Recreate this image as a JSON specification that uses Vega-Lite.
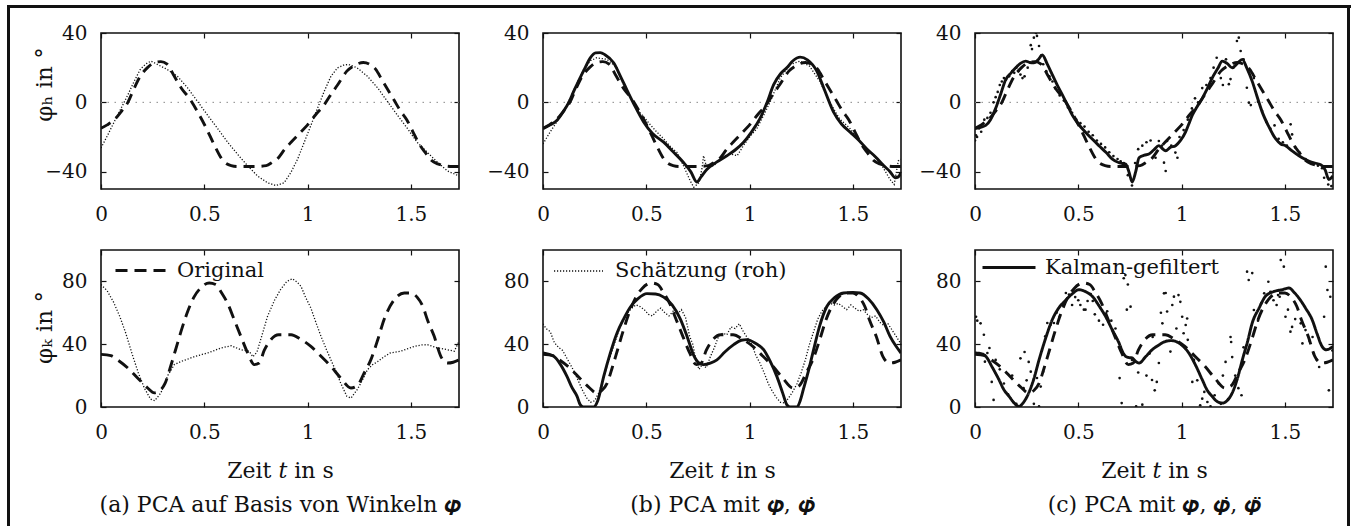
{
"$schema": "https://vega.github.io/schema/vega-lite/v6.json",
"padding": {"left": 7, "top": 5, "right": 0, "bottom": 0},
"background": "white",
"config": {
  "font": "DejaVu Serif",
  "view": {"stroke": "#111", "strokeWidth": 1.6},
  "axis": {"domain": false, "grid": false, "ticks": true, "tickSize": -5, "tickColor": "#111", "tickWidth": 1.2, "labelFont": "DejaVu Serif", "labelFontSize": 20, "labelColor": "#111", "labelFlush": false, "labelOverlap": false, "titleFont": "DejaVu Serif", "titleFontSize": 22, "titleFontWeight": "normal", "titleColor": "#111"},
  "legend": {"labelFont": "DejaVu Serif", "labelFontSize": 21, "labelColor": "#111", "labelLimit": 400, "symbolType": "stroke", "padding": 0, "offset": 0, "title": null}
},
"datasets": {
  "origH": [{"t":0,"v":-15},{"t":0.03,"v":-13},{"t":0.065,"v":-10},{"t":0.1,"v":-5},{"t":0.13,"v":0},{"t":0.16,"v":8},{"t":0.19,"v":15},{"t":0.225,"v":20},{"t":0.26,"v":23},{"t":0.29,"v":23.5},{"t":0.32,"v":22},{"t":0.355,"v":15},{"t":0.39,"v":8},{"t":0.43,"v":2},{"t":0.47,"v":-6},{"t":0.51,"v":-15},{"t":0.55,"v":-25},{"t":0.59,"v":-33.5},{"t":0.63,"v":-36.5},{"t":0.66,"v":-37},{"t":0.7,"v":-37},{"t":0.75,"v":-37},{"t":0.8,"v":-36.5},{"t":0.83,"v":-34.5},{"t":0.855,"v":-32.5},{"t":0.89,"v":-27},{"t":0.92,"v":-23},{"t":0.96,"v":-18},{"t":1.0,"v":-13},{"t":1.04,"v":-7},{"t":1.08,"v":-1.5},{"t":1.11,"v":4},{"t":1.145,"v":10},{"t":1.19,"v":18},{"t":1.23,"v":21.5},{"t":1.27,"v":23},{"t":1.3,"v":22},{"t":1.33,"v":19},{"t":1.36,"v":13},{"t":1.39,"v":7},{"t":1.42,"v":1},{"t":1.45,"v":-5},{"t":1.48,"v":-10},{"t":1.51,"v":-17},{"t":1.54,"v":-24},{"t":1.57,"v":-29},{"t":1.6,"v":-33.5},{"t":1.63,"v":-35.5},{"t":1.66,"v":-36.5},{"t":1.7,"v":-37},{"t":1.733,"v":-37}],
  "origK": [{"t":0,"v":33.5},{"t":0.048,"v":32.7},{"t":0.08,"v":30},{"t":0.13,"v":24.8},{"t":0.177,"v":18.5},{"t":0.226,"v":12.1},{"t":0.258,"v":9},{"t":0.285,"v":10.5},{"t":0.31,"v":15},{"t":0.335,"v":25},{"t":0.36,"v":36},{"t":0.387,"v":48},{"t":0.42,"v":61},{"t":0.45,"v":70},{"t":0.48,"v":75.5},{"t":0.524,"v":79},{"t":0.555,"v":78},{"t":0.585,"v":72.5},{"t":0.613,"v":66},{"t":0.645,"v":55.6},{"t":0.677,"v":45},{"t":0.71,"v":34.4},{"t":0.742,"v":27},{"t":0.766,"v":28},{"t":0.79,"v":36},{"t":0.823,"v":43},{"t":0.86,"v":46},{"t":0.92,"v":46},{"t":0.968,"v":43},{"t":1.016,"v":38.6},{"t":1.065,"v":32.3},{"t":1.113,"v":25.9},{"t":1.16,"v":18.5},{"t":1.21,"v":12.1},{"t":1.24,"v":13.5},{"t":1.274,"v":21.7},{"t":1.306,"v":30},{"t":1.34,"v":43},{"t":1.37,"v":55.6},{"t":1.42,"v":68.4},{"t":1.468,"v":72.6},{"t":1.5,"v":72.6},{"t":1.53,"v":70},{"t":1.558,"v":64},{"t":1.58,"v":55.6},{"t":1.613,"v":45},{"t":1.645,"v":32.3},{"t":1.677,"v":28},{"t":1.705,"v":28.5},{"t":1.733,"v":30}],
  "rawAH": [{"t":0,"v":-26.3},{"t":0.032,"v":-19},{"t":0.065,"v":-11},{"t":0.097,"v":-3.5},{"t":0.13,"v":4.3},{"t":0.16,"v":12},{"t":0.19,"v":19},{"t":0.215,"v":22},{"t":0.242,"v":23.8},{"t":0.274,"v":21.8},{"t":0.32,"v":19},{"t":0.37,"v":15},{"t":0.42,"v":8.2},{"t":0.468,"v":0.4},{"t":0.516,"v":-7.4},{"t":0.565,"v":-15.2},{"t":0.613,"v":-23},{"t":0.66,"v":-29.8},{"t":0.71,"v":-36.6},{"t":0.758,"v":-42.5},{"t":0.806,"v":-46.4},{"t":0.847,"v":-48},{"t":0.887,"v":-46.4},{"t":0.919,"v":-40.5},{"t":0.952,"v":-32.7},{"t":0.984,"v":-23},{"t":1.016,"v":-13.3},{"t":1.048,"v":-3.5},{"t":1.08,"v":6.2},{"t":1.113,"v":15},{"t":1.145,"v":19.9},{"t":1.177,"v":21.6},{"t":1.2,"v":21.8},{"t":1.24,"v":19.9},{"t":1.29,"v":15},{"t":1.34,"v":8.2},{"t":1.387,"v":0.4},{"t":1.435,"v":-7.4},{"t":1.484,"v":-15.2},{"t":1.53,"v":-23},{"t":1.58,"v":-28.9},{"t":1.63,"v":-34.7},{"t":1.677,"v":-39.6},{"t":1.733,"v":-42.5}],
  "rawAK": [{"t":0,"v":78},{"t":0.03,"v":74},{"t":0.06,"v":67},{"t":0.09,"v":58},{"t":0.12,"v":47},{"t":0.15,"v":34},{"t":0.18,"v":22},{"t":0.21,"v":12},{"t":0.24,"v":5},{"t":0.26,"v":4},{"t":0.29,"v":9},{"t":0.323,"v":20},{"t":0.355,"v":27},{"t":0.387,"v":29},{"t":0.42,"v":30.5},{"t":0.45,"v":32},{"t":0.49,"v":33.5},{"t":0.516,"v":34.4},{"t":0.55,"v":36},{"t":0.58,"v":37.6},{"t":0.63,"v":39},{"t":0.677,"v":36.5},{"t":0.718,"v":35.5},{"t":0.735,"v":32},{"t":0.755,"v":35},{"t":0.78,"v":46},{"t":0.806,"v":57.7},{"t":0.84,"v":68},{"t":0.87,"v":75},{"t":0.9,"v":80},{"t":0.927,"v":81.7},{"t":0.95,"v":79.5},{"t":0.968,"v":76.9},{"t":0.99,"v":70},{"t":1.016,"v":63},{"t":1.04,"v":54},{"t":1.065,"v":45},{"t":1.09,"v":37},{"t":1.113,"v":30},{"t":1.14,"v":22},{"t":1.16,"v":15.3},{"t":1.19,"v":6.8},{"t":1.21,"v":5.7},{"t":1.24,"v":11},{"t":1.265,"v":17},{"t":1.29,"v":23.8},{"t":1.315,"v":27},{"t":1.34,"v":29},{"t":1.37,"v":32},{"t":1.4,"v":34.4},{"t":1.45,"v":35.5},{"t":1.516,"v":38.6},{"t":1.55,"v":39.5},{"t":1.58,"v":39.7},{"t":1.63,"v":37.6},{"t":1.677,"v":36.5},{"t":1.71,"v":35.5},{"t":1.733,"v":41.8}],
  "rawBH": [{"t":0,"v":-24},{"t":0.035,"v":-17},{"t":0.068,"v":-11},{"t":0.1,"v":-5},{"t":0.13,"v":2},{"t":0.16,"v":10},{"t":0.197,"v":19},{"t":0.23,"v":24},{"t":0.26,"v":25.7},{"t":0.31,"v":24.8},{"t":0.358,"v":20},{"t":0.39,"v":10},{"t":0.42,"v":4},{"t":0.45,"v":-3.5},{"t":0.485,"v":-8},{"t":0.52,"v":-13},{"t":0.55,"v":-17},{"t":0.584,"v":-21},{"t":0.62,"v":-26},{"t":0.65,"v":-29},{"t":0.68,"v":-36.6},{"t":0.713,"v":-45.4},{"t":0.73,"v":-49},{"t":0.755,"v":-46.4},{"t":0.77,"v":-38},{"t":0.777,"v":-30.8},{"t":0.79,"v":-36.6},{"t":0.826,"v":-36.6},{"t":0.858,"v":-32.8},{"t":0.906,"v":-29.8},{"t":0.94,"v":-30.8},{"t":0.97,"v":-25},{"t":1.0,"v":-20},{"t":1.035,"v":-15.2},{"t":1.07,"v":-7},{"t":1.1,"v":0.4},{"t":1.148,"v":14},{"t":1.197,"v":21.8},{"t":1.245,"v":23.8},{"t":1.29,"v":20.9},{"t":1.34,"v":12.1},{"t":1.387,"v":0.4},{"t":1.435,"v":-9.4},{"t":1.487,"v":-15.2},{"t":1.535,"v":-23},{"t":1.584,"v":-28.9},{"t":1.632,"v":-34.7},{"t":1.68,"v":-44.5},{"t":1.7,"v":-47.4},{"t":1.72,"v":-33.8},{"t":1.733,"v":-32.8}],
  "rawBK": [{"t":0,"v":53},{"t":0.015,"v":50},{"t":0.035,"v":48},{"t":0.055,"v":41},{"t":0.075,"v":38},{"t":0.095,"v":36},{"t":0.12,"v":30},{"t":0.145,"v":24},{"t":0.17,"v":17},{"t":0.19,"v":11},{"t":0.21,"v":6},{"t":0.23,"v":3},{"t":0.25,"v":4},{"t":0.27,"v":9},{"t":0.29,"v":17},{"t":0.31,"v":26},{"t":0.33,"v":34},{"t":0.35,"v":42},{"t":0.37,"v":50},{"t":0.39,"v":56},{"t":0.41,"v":60},{"t":0.43,"v":63},{"t":0.45,"v":65},{"t":0.47,"v":64},{"t":0.49,"v":62},{"t":0.51,"v":59},{"t":0.53,"v":58},{"t":0.55,"v":61},{"t":0.57,"v":63},{"t":0.59,"v":60},{"t":0.61,"v":58},{"t":0.63,"v":61},{"t":0.65,"v":59},{"t":0.67,"v":62},{"t":0.69,"v":57},{"t":0.71,"v":45},{"t":0.725,"v":40},{"t":0.74,"v":30},{"t":0.755,"v":24},{"t":0.77,"v":27},{"t":0.79,"v":25},{"t":0.81,"v":32},{"t":0.83,"v":38},{"t":0.85,"v":45},{"t":0.87,"v":47},{"t":0.89,"v":46},{"t":0.91,"v":51},{"t":0.93,"v":50},{"t":0.95,"v":53},{"t":0.97,"v":48},{"t":0.99,"v":44},{"t":1.01,"v":40},{"t":1.03,"v":33},{"t":1.05,"v":28},{"t":1.07,"v":22},{"t":1.09,"v":15},{"t":1.11,"v":10},{"t":1.13,"v":6},{"t":1.15,"v":3},{"t":1.17,"v":2.5},{"t":1.19,"v":6},{"t":1.21,"v":10},{"t":1.23,"v":15},{"t":1.25,"v":22},{"t":1.27,"v":30},{"t":1.29,"v":40},{"t":1.31,"v":48},{"t":1.33,"v":56},{"t":1.35,"v":61},{"t":1.37,"v":64},{"t":1.39,"v":66},{"t":1.41,"v":65},{"t":1.43,"v":66},{"t":1.45,"v":64},{"t":1.47,"v":62},{"t":1.49,"v":65},{"t":1.51,"v":63},{"t":1.53,"v":61},{"t":1.55,"v":62},{"t":1.57,"v":59},{"t":1.59,"v":57},{"t":1.61,"v":58},{"t":1.63,"v":54},{"t":1.65,"v":52},{"t":1.67,"v":53},{"t":1.69,"v":49},{"t":1.71,"v":45},{"t":1.733,"v":40}],
  "kalBH": [{"t":0,"v":-15.2},{"t":0.035,"v":-13},{"t":0.068,"v":-10.3},{"t":0.1,"v":-5},{"t":0.125,"v":0},{"t":0.148,"v":6.2},{"t":0.175,"v":13},{"t":0.2,"v":19},{"t":0.229,"v":25.7},{"t":0.255,"v":28.5},{"t":0.277,"v":28.7},{"t":0.3,"v":27.5},{"t":0.342,"v":22.8},{"t":0.375,"v":15},{"t":0.406,"v":7.2},{"t":0.44,"v":-1},{"t":0.487,"v":-11.3},{"t":0.53,"v":-18},{"t":0.584,"v":-23},{"t":0.63,"v":-28.5},{"t":0.68,"v":-34.7},{"t":0.715,"v":-40},{"t":0.745,"v":-46},{"t":0.765,"v":-43},{"t":0.794,"v":-38.6},{"t":0.84,"v":-34.5},{"t":0.89,"v":-30.8},{"t":0.93,"v":-27.5},{"t":0.971,"v":-23},{"t":1.01,"v":-17},{"t":1.05,"v":-9.4},{"t":1.085,"v":0},{"t":1.116,"v":10.1},{"t":1.15,"v":16.5},{"t":1.18,"v":19.9},{"t":1.21,"v":24},{"t":1.245,"v":26.1},{"t":1.28,"v":24.5},{"t":1.326,"v":17.9},{"t":1.36,"v":8},{"t":1.406,"v":-5.5},{"t":1.445,"v":-12.5},{"t":1.487,"v":-17.2},{"t":1.53,"v":-22},{"t":1.568,"v":-26.9},{"t":1.61,"v":-31.5},{"t":1.65,"v":-36.6},{"t":1.68,"v":-40},{"t":1.705,"v":-43.5},{"t":1.72,"v":-43},{"t":1.733,"v":-40.6}],
  "kalBK": [{"t":0,"v":34.4},{"t":0.052,"v":32.3},{"t":0.085,"v":27},{"t":0.116,"v":19.5},{"t":0.14,"v":12.5},{"t":0.165,"v":6.8},{"t":0.18,"v":1.5},{"t":0.195,"v":0},{"t":0.245,"v":0},{"t":0.265,"v":4},{"t":0.294,"v":19.5},{"t":0.325,"v":34},{"t":0.358,"v":47},{"t":0.39,"v":56},{"t":0.423,"v":63.7},{"t":0.46,"v":69},{"t":0.503,"v":72.2},{"t":0.545,"v":72},{"t":0.584,"v":70},{"t":0.625,"v":65},{"t":0.665,"v":56},{"t":0.7,"v":44},{"t":0.729,"v":33},{"t":0.755,"v":28},{"t":0.777,"v":27},{"t":0.81,"v":28},{"t":0.842,"v":30},{"t":0.88,"v":35},{"t":0.923,"v":39.7},{"t":0.96,"v":42.5},{"t":0.987,"v":42.9},{"t":1.03,"v":40.5},{"t":1.068,"v":36.5},{"t":1.1,"v":29},{"t":1.132,"v":19.5},{"t":1.16,"v":9},{"t":1.18,"v":1.5},{"t":1.195,"v":0},{"t":1.23,"v":0},{"t":1.245,"v":4},{"t":1.26,"v":11},{"t":1.285,"v":23},{"t":1.31,"v":36.5},{"t":1.34,"v":52},{"t":1.374,"v":64},{"t":1.41,"v":69.5},{"t":1.455,"v":72.6},{"t":1.5,"v":73},{"t":1.535,"v":72.6},{"t":1.575,"v":69},{"t":1.616,"v":62},{"t":1.65,"v":54},{"t":1.68,"v":45},{"t":1.71,"v":38.5},{"t":1.733,"v":34.4}],
  "kalCH": [{"t":0,"v":-15.2},{"t":0.052,"v":-13.3},{"t":0.075,"v":-10},{"t":0.1,"v":-3.5},{"t":0.125,"v":5},{"t":0.148,"v":13},{"t":0.175,"v":17},{"t":0.197,"v":19.9},{"t":0.22,"v":22.5},{"t":0.245,"v":23.8},{"t":0.265,"v":23},{"t":0.285,"v":22.8},{"t":0.305,"v":24.5},{"t":0.326,"v":27.3},{"t":0.35,"v":22},{"t":0.374,"v":16},{"t":0.4,"v":9.5},{"t":0.423,"v":4.3},{"t":0.445,"v":-1},{"t":0.471,"v":-7.4},{"t":0.5,"v":-12.5},{"t":0.535,"v":-17.2},{"t":0.57,"v":-21.5},{"t":0.6,"v":-25},{"t":0.635,"v":-29},{"t":0.665,"v":-32.8},{"t":0.7,"v":-35},{"t":0.729,"v":-35.7},{"t":0.745,"v":-40},{"t":0.761,"v":-46},{"t":0.778,"v":-40},{"t":0.794,"v":-32},{"t":0.82,"v":-30.5},{"t":0.842,"v":-29.8},{"t":0.865,"v":-27.5},{"t":0.89,"v":-25},{"t":0.905,"v":-26.5},{"t":0.923,"v":-27.9},{"t":0.945,"v":-26},{"t":0.971,"v":-25},{"t":0.995,"v":-22},{"t":1.019,"v":-17.2},{"t":1.035,"v":-12.5},{"t":1.052,"v":-7.4},{"t":1.075,"v":-2.5},{"t":1.1,"v":2.3},{"t":1.125,"v":8},{"t":1.148,"v":14},{"t":1.175,"v":19.5},{"t":1.197,"v":23.8},{"t":1.22,"v":22.5},{"t":1.245,"v":19.9},{"t":1.27,"v":22.5},{"t":1.294,"v":24.8},{"t":1.315,"v":20},{"t":1.342,"v":12.1},{"t":1.365,"v":3.5},{"t":1.39,"v":-5.5},{"t":1.42,"v":-13.5},{"t":1.455,"v":-21},{"t":1.48,"v":-24},{"t":1.503,"v":-25},{"t":1.535,"v":-28},{"t":1.568,"v":-30.8},{"t":1.6,"v":-33},{"t":1.632,"v":-34.7},{"t":1.66,"v":-35.5},{"t":1.68,"v":-36.6},{"t":1.695,"v":-39},{"t":1.713,"v":-44.5},{"t":1.733,"v":-42.5}],
  "kalCK": [{"t":0,"v":34.4},{"t":0.03,"v":34},{"t":0.052,"v":32.3},{"t":0.085,"v":25},{"t":0.116,"v":17.4},{"t":0.14,"v":11},{"t":0.165,"v":6.8},{"t":0.19,"v":2.5},{"t":0.213,"v":0.4},{"t":0.235,"v":3},{"t":0.26,"v":8.9},{"t":0.285,"v":18},{"t":0.31,"v":30},{"t":0.34,"v":43},{"t":0.374,"v":55.6},{"t":0.405,"v":63},{"t":0.439,"v":68},{"t":0.47,"v":72},{"t":0.503,"v":74.7},{"t":0.535,"v":73.5},{"t":0.568,"v":70.5},{"t":0.6,"v":64.5},{"t":0.632,"v":57.7},{"t":0.665,"v":49},{"t":0.697,"v":40.8},{"t":0.715,"v":35},{"t":0.729,"v":32.3},{"t":0.745,"v":31.5},{"t":0.761,"v":31.2},{"t":0.778,"v":29},{"t":0.794,"v":28},{"t":0.826,"v":32},{"t":0.858,"v":36.5},{"t":0.89,"v":39.5},{"t":0.923,"v":41.8},{"t":0.95,"v":42.3},{"t":0.971,"v":41.8},{"t":1.0,"v":39.5},{"t":1.035,"v":34.4},{"t":1.07,"v":26},{"t":1.1,"v":17.4},{"t":1.125,"v":10.5},{"t":1.148,"v":6.8},{"t":1.172,"v":3.5},{"t":1.197,"v":2.5},{"t":1.22,"v":4},{"t":1.245,"v":8.9},{"t":1.27,"v":18},{"t":1.294,"v":30},{"t":1.32,"v":42},{"t":1.342,"v":53.5},{"t":1.375,"v":63},{"t":1.406,"v":70.5},{"t":1.445,"v":73.5},{"t":1.487,"v":74.7},{"t":1.52,"v":75.8},{"t":1.545,"v":73},{"t":1.568,"v":69.4},{"t":1.6,"v":63},{"t":1.632,"v":55.6},{"t":1.655,"v":47},{"t":1.68,"v":38.6},{"t":1.7,"v":36.5},{"t":1.715,"v":37},{"t":1.733,"v":38.6}],
  "rawCH": [{"t":0,"v":-22},{"t":0.005,"v":-19},{"t":0.01,"v":-20},{"t":0.02,"v":-15},{"t":0.03,"v":-17},{"t":0.045,"v":-10},{"t":0.06,"v":-9},{"t":0.075,"v":-6},{"t":0.09,"v":0},{"t":0.1,"v":3},{"t":0.11,"v":6},{"t":0.12,"v":10},{"t":0.13,"v":12},{"t":0.14,"v":14},{"t":0.15,"v":13},{"t":0.165,"v":15},{"t":0.18,"v":18},{"t":0.19,"v":17},{"t":0.2,"v":20},{"t":0.21,"v":18},{"t":0.22,"v":16},{"t":0.23,"v":14},{"t":0.24,"v":15},{"t":0.255,"v":20},{"t":0.27,"v":33},{"t":0.276,"v":30.7},{"t":0.285,"v":37.3},{"t":0.295,"v":40},{"t":0.3,"v":38.3},{"t":0.31,"v":32.5},{"t":0.32,"v":27},{"t":0.33,"v":22},{"t":0.345,"v":18},{"t":0.36,"v":15},{"t":0.375,"v":12},{"t":0.39,"v":8},{"t":0.41,"v":4},{"t":0.43,"v":1},{"t":0.45,"v":-3},{"t":0.47,"v":-6},{"t":0.49,"v":-10},{"t":0.51,"v":-12},{"t":0.53,"v":-14},{"t":0.55,"v":-17},{"t":0.57,"v":-19},{"t":0.59,"v":-22},{"t":0.61,"v":-24},{"t":0.63,"v":-26},{"t":0.65,"v":-28.8},{"t":0.67,"v":-31},{"t":0.69,"v":-32.7},{"t":0.705,"v":-34},{"t":0.72,"v":-35},{"t":0.74,"v":-42},{"t":0.76,"v":-48},{"t":0.775,"v":-35},{"t":0.79,"v":-27},{"t":0.81,"v":-25},{"t":0.83,"v":-23},{"t":0.85,"v":-22},{"t":0.874,"v":-32},{"t":0.89,"v":-22.3},{"t":0.905,"v":-25},{"t":0.915,"v":-34.8},{"t":0.923,"v":-39.6},{"t":0.93,"v":-22.3},{"t":0.95,"v":-25},{"t":0.97,"v":-29},{"t":0.98,"v":-32},{"t":0.99,"v":-20},{"t":1.01,"v":-16},{"t":1.03,"v":-10},{"t":1.05,"v":-3.5},{"t":1.065,"v":2.3},{"t":1.08,"v":0},{"t":1.1,"v":8.2},{"t":1.12,"v":10},{"t":1.14,"v":14},{"t":1.155,"v":20},{"t":1.17,"v":25.7},{"t":1.19,"v":14},{"t":1.2,"v":10},{"t":1.215,"v":24.8},{"t":1.229,"v":10.5},{"t":1.237,"v":13.4},{"t":1.25,"v":20},{"t":1.268,"v":35.4},{"t":1.277,"v":37.3},{"t":1.286,"v":29.6},{"t":1.3,"v":24.8},{"t":1.316,"v":8.4},{"t":1.326,"v":-0.2},{"t":1.335,"v":-1.6},{"t":1.35,"v":14},{"t":1.37,"v":0.4},{"t":1.39,"v":-5},{"t":1.41,"v":-11.3},{"t":1.43,"v":-15.2},{"t":1.45,"v":-13.3},{"t":1.47,"v":-21},{"t":1.49,"v":-23},{"t":1.51,"v":-25},{"t":1.528,"v":-12.7},{"t":1.535,"v":-18.5},{"t":1.55,"v":-26},{"t":1.57,"v":-28.8},{"t":1.6,"v":-32.7},{"t":1.63,"v":-34.7},{"t":1.66,"v":-36.6},{"t":1.68,"v":-38},{"t":1.69,"v":-43.5},{"t":1.71,"v":-47.4},{"t":1.725,"v":-48.3}],
  "rawCK": [{"t":0.005,"v":57.5},{"t":0.011,"v":55},{"t":0.027,"v":53.3},{"t":0.043,"v":46},{"t":0.048,"v":28.9},{"t":0.06,"v":34.4},{"t":0.07,"v":37.6},{"t":0.081,"v":16},{"t":0.09,"v":4.5},{"t":0.1,"v":30},{"t":0.12,"v":24},{"t":0.14,"v":15},{"t":0.16,"v":8},{"t":0.18,"v":20},{"t":0.2,"v":2},{"t":0.22,"v":31},{"t":0.235,"v":12},{"t":0.24,"v":35},{"t":0.25,"v":17},{"t":0.26,"v":28.7},{"t":0.27,"v":22.5},{"t":0.285,"v":2},{"t":0.3,"v":18.5},{"t":0.31,"v":0.5},{"t":0.318,"v":13},{"t":0.33,"v":22.5},{"t":0.34,"v":45},{"t":0.35,"v":53.5},{"t":0.366,"v":52.4},{"t":0.382,"v":53.5},{"t":0.395,"v":60},{"t":0.41,"v":57.6},{"t":0.425,"v":65},{"t":0.44,"v":72.6},{"t":0.455,"v":71.6},{"t":0.47,"v":65},{"t":0.485,"v":70},{"t":0.5,"v":68},{"t":0.51,"v":65},{"t":0.527,"v":62},{"t":0.535,"v":62},{"t":0.545,"v":67.5},{"t":0.56,"v":72},{"t":0.57,"v":67.5},{"t":0.58,"v":59},{"t":0.6,"v":55},{"t":0.62,"v":52.4},{"t":0.64,"v":61},{"t":0.66,"v":55},{"t":0.68,"v":50},{"t":0.7,"v":18.4},{"t":0.71,"v":2.5},{"t":0.72,"v":82},{"t":0.728,"v":84},{"t":0.735,"v":62},{"t":0.74,"v":78},{"t":0.753,"v":63.9},{"t":0.76,"v":30},{"t":0.78,"v":0.5},{"t":0.79,"v":22},{"t":0.81,"v":1.5},{"t":0.83,"v":20},{"t":0.845,"v":34},{"t":0.857,"v":17.2},{"t":0.86,"v":44.6},{"t":0.87,"v":10.6},{"t":0.88,"v":16},{"t":0.89,"v":28},{"t":0.9,"v":60},{"t":0.907,"v":53.3},{"t":0.915,"v":72.4},{"t":0.923,"v":72.6},{"t":0.93,"v":60.8},{"t":0.946,"v":35.3},{"t":0.955,"v":65},{"t":0.963,"v":70.3},{"t":0.975,"v":50},{"t":0.985,"v":71.3},{"t":0.994,"v":67},{"t":1.003,"v":57.5},{"t":1.01,"v":47},{"t":1.02,"v":52.2},{"t":1.027,"v":56.4},{"t":1.03,"v":42.8},{"t":1.052,"v":16},{"t":1.06,"v":30},{"t":1.076,"v":17},{"t":1.09,"v":1.1},{"t":1.1,"v":5.3},{"t":1.11,"v":9.6},{"t":1.125,"v":3.2},{"t":1.14,"v":0.5},{"t":1.16,"v":7.5},{"t":1.18,"v":15},{"t":1.19,"v":2},{"t":1.2,"v":20},{"t":1.213,"v":28.7},{"t":1.225,"v":5},{"t":1.237,"v":44.6},{"t":1.24,"v":41.4},{"t":1.245,"v":31.8},{"t":1.26,"v":20},{"t":1.275,"v":12},{"t":1.29,"v":7.5},{"t":1.3,"v":38},{"t":1.317,"v":86.2},{"t":1.325,"v":80.9},{"t":1.342,"v":85.3},{"t":1.35,"v":61.8},{"t":1.37,"v":55},{"t":1.385,"v":66},{"t":1.4,"v":72.4},{"t":1.42,"v":79.8},{"t":1.43,"v":73.4},{"t":1.445,"v":68},{"t":1.46,"v":65},{"t":1.467,"v":71.3},{"t":1.475,"v":70.2},{"t":1.48,"v":93.6},{"t":1.495,"v":89.4},{"t":1.503,"v":57.5},{"t":1.515,"v":62},{"t":1.527,"v":48},{"t":1.535,"v":51},{"t":1.55,"v":56},{"t":1.577,"v":53.3},{"t":1.585,"v":40.5},{"t":1.6,"v":49},{"t":1.62,"v":42},{"t":1.634,"v":44.6},{"t":1.64,"v":34},{"t":1.655,"v":30},{"t":1.666,"v":25.5},{"t":1.69,"v":57.5},{"t":1.698,"v":89.4},{"t":1.706,"v":74.5},{"t":1.713,"v":10.6},{"t":1.72,"v":70.2},{"t":1.73,"v":36}]
},
"spacing": 0,
"resolve": {"scale": {"x": "independent", "y": "independent", "strokeDash": "independent"}, "legend": {"strokeDash": "independent"}},
"vconcat": [
  {"width": 1344, "height": 3, "view": {"stroke": null, "fill": "#111"}, "data": {"values": []}, "mark": {"type": "point", "opacity": 0}},
  {"spacing": 4,
   "resolve": {"scale": {"x": "independent", "y": "independent", "strokeDash": "independent"}, "legend": {"strokeDash": "independent"}},
   "hconcat": [
    {"width": 3, "height": 518, "view": {"stroke": null, "fill": "#111"}, "data": {"values": []}, "mark": {"type": "point", "opacity": 0}},
    {"spacing": 10,
     "resolve": {"scale": {"x": "independent", "y": "independent", "strokeDash": "independent"}, "legend": {"strokeDash": "independent"}},
     "vconcat": [
      {"width": 358, "height": 1, "view": {"stroke": null}, "data": {"values": []}, "mark": {"type": "point", "opacity": 0}},
      {"width": 358, "height": 156,
       "resolve": {"axis": {"x": "independent", "y": "independent"}},
       "layer": [
        {"data": {"values": [{"y": 0}]}, "mark": {"type": "rule", "strokeDash": [1.5, 5.5], "color": "#888", "strokeWidth": 1}, "encoding": {"y": {"field": "y", "type": "quantitative", "scale": {"domain": [-50, 40], "nice": false, "zero": false}, "axis": null}}},
        {"data": {"name": "rawAH"}, "mark": {"type": "line", "strokeDash": [1.2, 1.8], "strokeWidth": 1.3, "color": "#111", "clip": true},
         "encoding": {"x": {"field": "t", "type": "quantitative", "scale": {"domain": [0, 1.733], "nice": false, "zero": false}, "axis": {"orient": "top", "values": [0, 0.5, 1, 1.5], "labels": false, "title": null, "minExtent": 13, "maxExtent": 13}},
                      "y": {"field": "v", "type": "quantitative", "scale": {"domain": [-50, 40], "nice": false, "zero": false}, "axis": {"orient": "right", "values": [-40, 0, 40], "labels": false, "title": null, "minExtent": 9, "maxExtent": 9}}}},
        {"data": {"name": "origH"}, "mark": {"type": "line", "strokeDash": [11, 7], "strokeWidth": 2.9, "color": "#111", "interpolate": "monotone", "clip": true},
         "encoding": {"x": {"field": "t", "type": "quantitative", "scale": {"domain": [0, 1.733], "nice": false, "zero": false}, "axis": {"orient": "bottom", "values": [0, 0.5, 1, 1.5], "format": "~g", "labelPadding": 20, "title": null, "minExtent": 37, "maxExtent": 37}},
                      "y": {"field": "v", "type": "quantitative", "scale": {"domain": [-50, 40], "nice": false, "zero": false}, "axis": {"orient": "left", "values": [-40, 0, 40], "labelPadding": 19, "title": "φₕ in  °", "titleFontSize": 23, "titleX": -50, "titleY": 51, "titleBaseline": "alphabetic", "titleAngle": 270, "titleAlign": "center", "minExtent": 86, "maxExtent": 86}}}}
       ]},
      {"width": 358, "height": 157,
       "resolve": {"axis": {"x": "independent", "y": "independent"}},
       "layer": [
        {"data": {"name": "rawAK"}, "mark": {"type": "line", "strokeDash": [1.2, 1.8], "strokeWidth": 1.3, "color": "#111", "clip": true},
         "encoding": {"x": {"field": "t", "type": "quantitative", "scale": {"domain": [0, 1.733], "nice": false, "zero": false}, "axis": {"orient": "top", "values": [0, 0.5, 1, 1.5], "labels": false, "title": null, "minExtent": 12, "maxExtent": 12}},
                      "y": {"field": "v", "type": "quantitative", "scale": {"domain": [0, 100], "nice": false, "zero": false}, "axis": {"orient": "right", "values": [0, 40, 80], "labels": false, "title": null, "minExtent": 9, "maxExtent": 9}}}},
        {"data": {"name": "origK"}, "mark": {"type": "line", "strokeWidth": 2.9, "color": "#111", "interpolate": "monotone", "clip": true},
         "encoding": {"x": {"field": "t", "type": "quantitative", "scale": {"domain": [0, 1.733], "nice": false, "zero": false}, "axis": {"orient": "bottom", "values": [0, 0.5, 1, 1.5], "format": "~g", "labelPadding": 20, "title": ["Zeit 𝑡 in s", "(a) PCA auf Basis von Winkeln 𝝋"], "titlePadding": 16, "titleLineHeight": 34, "minExtent": 37, "maxExtent": 37}},
                      "y": {"field": "v", "type": "quantitative", "scale": {"domain": [0, 100], "nice": false, "zero": false}, "axis": {"orient": "left", "values": [0, 40, 80], "labelPadding": 19, "title": "φₖ in  °", "titleFontSize": 23, "titleX": -50, "titleY": 77, "titleBaseline": "alphabetic", "titleAngle": 270, "titleAlign": "center", "minExtent": 86, "maxExtent": 86}},
                      "strokeDash": {"datum": "Original", "type": "nominal", "scale": {"domain": ["Original"], "range": [[12, 7]]}, "legend": {"orient": "none", "legendX": 13, "legendY": -8.5, "symbolSize": 3025, "symbolStrokeWidth": 2.9, "symbolStrokeColor": "#111", "labelOffset": 5}}}}
       ]}
     ]},
    {"spacing": 10,
     "resolve": {"scale": {"x": "independent", "y": "independent", "strokeDash": "independent"}, "legend": {"strokeDash": "independent"}},
     "vconcat": [
      {"width": 358, "height": 1, "view": {"stroke": null}, "data": {"values": []}, "mark": {"type": "point", "opacity": 0}},
      {"width": 358, "height": 156,
       "resolve": {"axis": {"x": "independent", "y": "independent"}},
       "layer": [
        {"data": {"values": [{"y": 0}]}, "mark": {"type": "rule", "strokeDash": [1.5, 5.5], "color": "#888", "strokeWidth": 1}, "encoding": {"y": {"field": "y", "type": "quantitative", "scale": {"domain": [-50, 40], "nice": false, "zero": false}, "axis": null}}},
        {"data": {"name": "rawBH"}, "mark": {"type": "line", "strokeDash": [1.2, 1.8], "strokeWidth": 1.3, "color": "#111", "clip": true},
         "encoding": {"x": {"field": "t", "type": "quantitative", "scale": {"domain": [0, 1.733], "nice": false, "zero": false}, "axis": {"orient": "top", "values": [0, 0.5, 1, 1.5], "labels": false, "title": null, "minExtent": 13, "maxExtent": 13}},
                      "y": {"field": "v", "type": "quantitative", "scale": {"domain": [-50, 40], "nice": false, "zero": false}, "axis": {"orient": "right", "values": [-40, 0, 40], "labels": false, "title": null, "minExtent": 9, "maxExtent": 9}}}},
        {"data": {"name": "origH"}, "mark": {"type": "line", "strokeDash": [11, 7], "strokeWidth": 2.9, "color": "#111", "interpolate": "monotone", "clip": true},
         "encoding": {"x": {"field": "t", "type": "quantitative", "scale": {"domain": [0, 1.733], "nice": false, "zero": false}, "axis": {"orient": "bottom", "values": [0, 0.5, 1, 1.5], "format": "~g", "labelPadding": 20, "title": null, "minExtent": 37, "maxExtent": 37}},
                      "y": {"field": "v", "type": "quantitative", "scale": {"domain": [-50, 40], "nice": false, "zero": false}, "axis": {"orient": "left", "values": [-40, 0, 40], "labelPadding": 19, "title": null, "minExtent": 69, "maxExtent": 69}}}},
        {"data": {"name": "kalBH"}, "mark": {"type": "line", "strokeWidth": 2.9, "color": "#111", "interpolate": "monotone", "clip": true},
         "encoding": {"x": {"field": "t", "type": "quantitative", "scale": {"domain": [0, 1.733], "nice": false, "zero": false}, "axis": null},
                      "y": {"field": "v", "type": "quantitative", "scale": {"domain": [-50, 40], "nice": false, "zero": false}, "axis": null}}}
       ]},
      {"width": 358, "height": 157,
       "resolve": {"axis": {"x": "independent", "y": "independent"}},
       "layer": [
        {"data": {"name": "rawBK"}, "mark": {"type": "line", "strokeWidth": 1.3, "color": "#111", "clip": true},
         "encoding": {"x": {"field": "t", "type": "quantitative", "scale": {"domain": [0, 1.733], "nice": false, "zero": false}, "axis": {"orient": "top", "values": [0, 0.5, 1, 1.5], "labels": false, "title": null, "minExtent": 12, "maxExtent": 12}},
                      "y": {"field": "v", "type": "quantitative", "scale": {"domain": [0, 100], "nice": false, "zero": false}, "axis": {"orient": "right", "values": [0, 40, 80], "labels": false, "title": null, "minExtent": 9, "maxExtent": 9}},
                      "strokeDash": {"datum": "Schätzung (roh)", "type": "nominal", "scale": {"domain": ["Schätzung (roh)"], "range": [[1.2, 1.8]]}, "legend": {"orient": "none", "legendX": 10, "legendY": -4.5, "symbolSize": 2401, "symbolStrokeWidth": 1.3, "symbolStrokeColor": "#111", "labelOffset": 11}}}},
        {"data": {"name": "origK"}, "mark": {"type": "line", "strokeDash": [11, 7], "strokeWidth": 2.9, "color": "#111", "interpolate": "monotone", "clip": true},
         "encoding": {"x": {"field": "t", "type": "quantitative", "scale": {"domain": [0, 1.733], "nice": false, "zero": false}, "axis": {"orient": "bottom", "values": [0, 0.5, 1, 1.5], "format": "~g", "labelPadding": 20, "title": ["Zeit 𝑡 in s", "(b) PCA mit 𝝋, 𝝋̇"], "titlePadding": 16, "titleLineHeight": 34, "minExtent": 37, "maxExtent": 37}},
                      "y": {"field": "v", "type": "quantitative", "scale": {"domain": [0, 100], "nice": false, "zero": false}, "axis": {"orient": "left", "values": [0, 40, 80], "labelPadding": 19, "title": null, "minExtent": 69, "maxExtent": 69}}}},
        {"data": {"name": "kalBK"}, "mark": {"type": "line", "strokeWidth": 2.9, "color": "#111", "interpolate": "monotone", "clip": true},
         "encoding": {"x": {"field": "t", "type": "quantitative", "scale": {"domain": [0, 1.733], "nice": false, "zero": false}, "axis": null},
                      "y": {"field": "v", "type": "quantitative", "scale": {"domain": [0, 100], "nice": false, "zero": false}, "axis": null}}}
       ]}
     ]},
    {"spacing": 10,
     "resolve": {"scale": {"x": "independent", "y": "independent", "strokeDash": "independent"}, "legend": {"strokeDash": "independent"}},
     "vconcat": [
      {"width": 358, "height": 1, "view": {"stroke": null}, "data": {"values": []}, "mark": {"type": "point", "opacity": 0}},
      {"width": 358, "height": 156,
       "resolve": {"axis": {"x": "independent", "y": "independent"}},
       "layer": [
        {"data": {"values": [{"y": 0}]}, "mark": {"type": "rule", "strokeDash": [1.5, 5.5], "color": "#888", "strokeWidth": 1}, "encoding": {"y": {"field": "y", "type": "quantitative", "scale": {"domain": [-50, 40], "nice": false, "zero": false}, "axis": null}}},
        {"data": {"name": "rawCH"}, "mark": {"type": "point", "filled": true, "size": 7, "color": "#111", "opacity": 1, "clip": true},
         "encoding": {"x": {"field": "t", "type": "quantitative", "scale": {"domain": [0, 1.733], "nice": false, "zero": false}, "axis": {"orient": "top", "values": [0, 0.5, 1, 1.5], "labels": false, "title": null, "minExtent": 13, "maxExtent": 13}},
                      "y": {"field": "v", "type": "quantitative", "scale": {"domain": [-50, 40], "nice": false, "zero": false}, "axis": {"orient": "right", "values": [-40, 0, 40], "labels": false, "title": null, "minExtent": 9, "maxExtent": 9}}}},
        {"data": {"name": "origH"}, "mark": {"type": "line", "strokeDash": [11, 7], "strokeWidth": 2.9, "color": "#111", "interpolate": "monotone", "clip": true},
         "encoding": {"x": {"field": "t", "type": "quantitative", "scale": {"domain": [0, 1.733], "nice": false, "zero": false}, "axis": {"orient": "bottom", "values": [0, 0.5, 1, 1.5], "format": "~g", "labelPadding": 20, "title": null, "minExtent": 37, "maxExtent": 37}},
                      "y": {"field": "v", "type": "quantitative", "scale": {"domain": [-50, 40], "nice": false, "zero": false}, "axis": {"orient": "left", "values": [-40, 0, 40], "labelPadding": 19, "title": null, "minExtent": 59, "maxExtent": 59}}}},
        {"data": {"name": "kalCH"}, "mark": {"type": "line", "strokeWidth": 2.9, "color": "#111", "interpolate": "monotone", "clip": true},
         "encoding": {"x": {"field": "t", "type": "quantitative", "scale": {"domain": [0, 1.733], "nice": false, "zero": false}, "axis": null},
                      "y": {"field": "v", "type": "quantitative", "scale": {"domain": [-50, 40], "nice": false, "zero": false}, "axis": null}}}
       ]},
      {"width": 358, "height": 157,
       "resolve": {"axis": {"x": "independent", "y": "independent"}},
       "layer": [
        {"data": {"name": "rawCK"}, "mark": {"type": "point", "filled": true, "size": 7, "color": "#111", "opacity": 1, "clip": true},
         "encoding": {"x": {"field": "t", "type": "quantitative", "scale": {"domain": [0, 1.733], "nice": false, "zero": false}, "axis": {"orient": "top", "values": [0, 0.5, 1, 1.5], "labels": false, "title": null, "minExtent": 12, "maxExtent": 12}},
                      "y": {"field": "v", "type": "quantitative", "scale": {"domain": [0, 100], "nice": false, "zero": false}, "axis": {"orient": "right", "values": [0, 40, 80], "labels": false, "title": null, "minExtent": 9, "maxExtent": 9}}}},
        {"data": {"name": "origK"}, "mark": {"type": "line", "strokeDash": [11, 7], "strokeWidth": 2.9, "color": "#111", "interpolate": "monotone", "clip": true},
         "encoding": {"x": {"field": "t", "type": "quantitative", "scale": {"domain": [0, 1.733], "nice": false, "zero": false}, "axis": {"orient": "bottom", "values": [0, 0.5, 1, 1.5], "format": "~g", "labelPadding": 20, "title": ["Zeit 𝑡 in s", "(c) PCA mit 𝝋, 𝝋̇, 𝝋̈"], "titlePadding": 16, "titleLineHeight": 34, "minExtent": 37, "maxExtent": 37}},
                      "y": {"field": "v", "type": "quantitative", "scale": {"domain": [0, 100], "nice": false, "zero": false}, "axis": {"orient": "left", "values": [0, 40, 80], "labelPadding": 19, "title": null, "minExtent": 59, "maxExtent": 59}}}},
        {"data": {"name": "kalCK"}, "mark": {"type": "line", "strokeWidth": 2.9, "color": "#111", "interpolate": "monotone", "clip": true},
         "encoding": {"x": {"field": "t", "type": "quantitative", "scale": {"domain": [0, 1.733], "nice": false, "zero": false}, "axis": null},
                      "y": {"field": "v", "type": "quantitative", "scale": {"domain": [0, 100], "nice": false, "zero": false}, "axis": null},
                      "strokeDash": {"datum": "Kalman-gefiltert", "type": "nominal", "scale": {"domain": ["Kalman-gefiltert"], "range": [[1, 0]]}, "legend": {"orient": "none", "legendX": 6, "legendY": -10.5, "symbolSize": 2809, "symbolStrokeWidth": 2.9, "symbolStrokeColor": "#111", "labelOffset": 8}}}}
       ]}
     ]},
    {"width": 3, "height": 518, "view": {"stroke": null, "fill": "#111"}, "data": {"values": []}, "mark": {"type": "point", "opacity": 0}}
   ]}
]
}
